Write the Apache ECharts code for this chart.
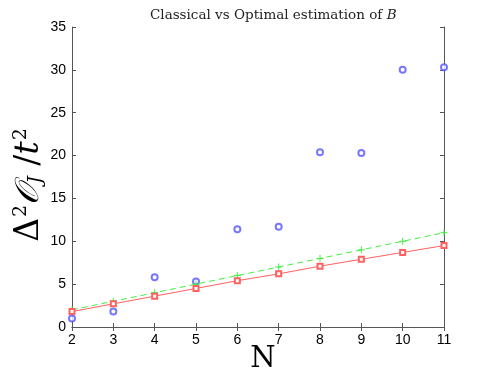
<!DOCTYPE html>
<html><head><meta charset="utf-8">
<script src="https://cdn.jsdelivr.net/npm/echarts@6/dist/echarts.min.js"></script>
<style>html,body{margin:0;padding:0;background:#fff}#c{width:491px;height:369px}</style>
</head><body><div id="c"></div>
<script>
var N = [2,3,4,5,6,7,8,9,10,11];
var classical = [1.0,1.8,5.8,5.3,11.4,11.7,20.4,20.3,30.0,30.3];
var optimal = [1.8,2.7,3.6,4.5,5.4,6.2,7.1,7.9,8.7,9.5];
var bound = [2,3,4,5,6,7,8,9,10,11];
var yTicks = [0,5,10,15,20,25,30,35];
function pairs(ys){return N.map(function(x,i){return [x,ys[i]];});}
var plus = 'path://M5,0L5,10M0,5L10,5';
var chart = echarts.init(document.getElementById('c'));
var axisCommon = {
  axisLine:{show:true,lineStyle:{color:'#555',width:1}},
  axisTick:{inside:true,length:4,lineStyle:{color:'#555'}},
  splitLine:{show:false},
  nameMoveOverlap:false
};
chart.setOption({
  animation:false,
  title:{text:'Classical vs Optimal estimation of {b|B}',left:145,top:3,
    textStyle:{fontFamily:'DejaVu Serif',fontWeight:'normal',fontSize:13.5,color:'#222',
      rich:{b:{fontFamily:'DejaVu Serif',fontStyle:'italic',fontSize:13.5,color:'#222'}}}},
  grid:{left:72,right:47,top:27,bottom:42,outerBoundsMode:'none',containLabel:false},
  xAxis:[
    Object.assign({type:'value',min:2,max:11,interval:1,position:'bottom',
      name:'N',nameLocation:'middle',nameGap:18,
      nameTextStyle:{fontFamily:'DejaVu Serif',fontSize:29,color:'#000',padding:[0,0,0,10]},
      axisLabel:{fontFamily:'Liberation Sans',fontSize:14,color:'#000',margin:6}},axisCommon),
    Object.assign({type:'value',min:2,max:11,interval:1,position:'top',axisLabel:{show:false}},axisCommon)
  ],
  yAxis:[
    Object.assign({type:'value',min:0,max:35,interval:5,position:'left',
      name:'{a|Δ}{s|2}{o|𝒪}{j|J}{a| /}{t|t}{s|2}',nameLocation:'middle',nameGap:26,nameRotate:90,
      nameTextStyle:{fontFamily:'DejaVu Serif',fontSize:33,color:'#000',padding:[0,16,0,0],
        rich:{
          a:{fontFamily:'DejaVu Serif',fontSize:33,color:'#000'},
          s:{fontFamily:'DejaVu Serif',fontSize:19,color:'#000',verticalAlign:'top',padding:[0,0,15,1]},
          o:{fontFamily:'DejaVu Serif',fontStyle:'italic',fontSize:33,color:'#000'},
          j:{fontFamily:'DejaVu Serif',fontStyle:'italic',fontSize:19,color:'#000',padding:[15,0,0,0]},
          t:{fontFamily:'DejaVu Serif',fontStyle:'italic',fontSize:33,color:'#000'}
        }},
      axisLabel:{fontFamily:'Liberation Sans',fontSize:14,color:'#000',margin:6}},axisCommon),
    Object.assign({type:'value',min:0,max:35,interval:5,position:'right',axisLabel:{show:false}},axisCommon)
  ],
  series:[
    {type:'line',data:pairs(bound),symbol:plus,symbolSize:7,showSymbol:true,
      lineStyle:{color:'#44ee44',width:1,type:[6,4]},itemStyle:{color:'#44ee44',borderColor:'#44ee44',borderWidth:1}},
    {type:'line',data:pairs(optimal),symbol:'emptyRect',symbolSize:5,
      lineStyle:{color:'#ff6060',width:1},itemStyle:{color:'#ff6060',borderWidth:1}},
    {type:'scatter',data:pairs(classical),symbol:'emptyCircle',symbolSize:6,
      itemStyle:{color:'#5555ff',borderColor:'#5555ff',borderWidth:1}}
  ]
});
</script></body></html>
